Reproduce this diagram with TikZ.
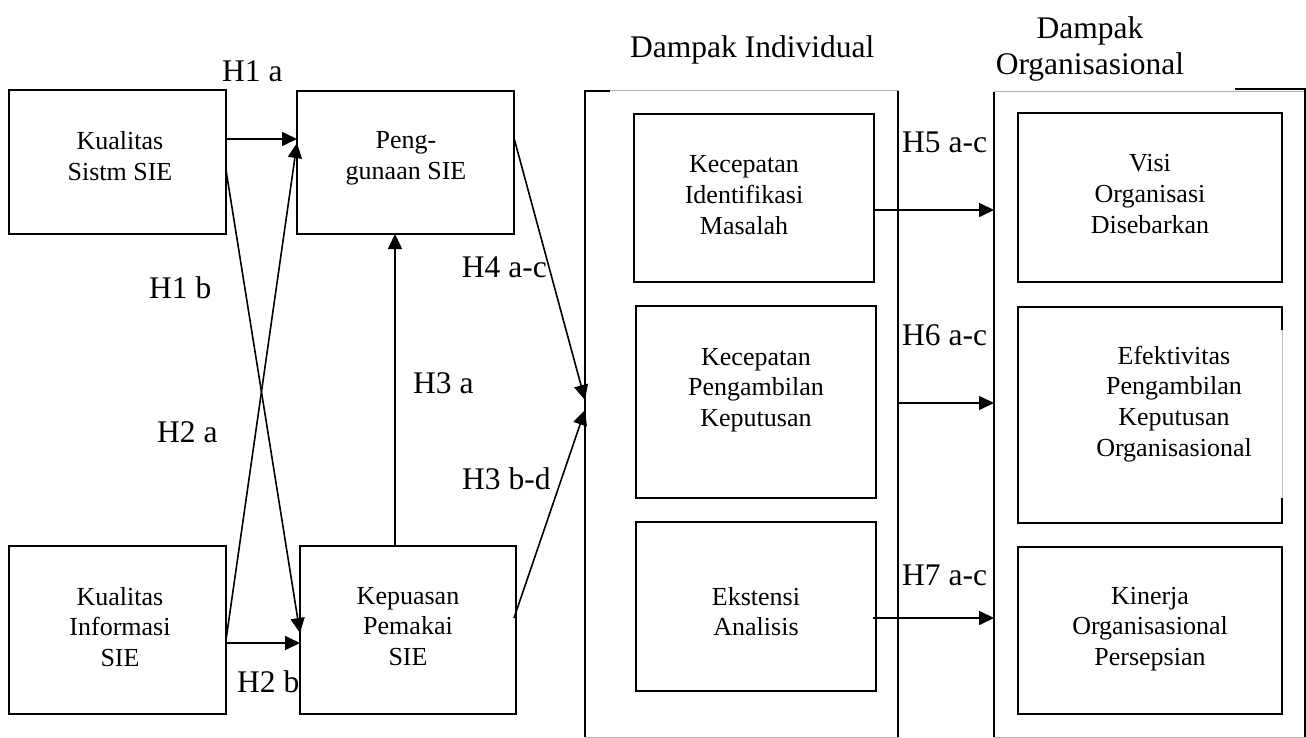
\documentclass[tikz,border=0pt]{standalone}
\usepackage{fontspec}
\setmainfont{Liberation Serif}
\usetikzlibrary{arrows.meta}
\begin{document}
\begin{tikzpicture}[x=1pt,y=-1pt,
  box/.style={draw, line width=1.8pt, rectangle, inner sep=0pt, outer sep=0pt},
  outerbox/.style={draw=gray!60, line width=1pt, rectangle, inner sep=0pt, outer sep=0pt},
  edge/.style={line width=2pt},
  txt/.style={anchor=base, inner sep=0pt, font=\fontsize{26}{30.8}\selectfont},
  lbl/.style={anchor=base west, inner sep=0pt, font=\fontsize{31.5}{36}\selectfont},
  conn/.style={line width=1.6pt, -{Triangle[length=15pt,width=14pt]}}
]
\useasboundingbox (0,0) rectangle (1306,738);

% left boxes
\node[box, minimum width=217pt, minimum height=144pt] (ks) at (117.5,162) {};
\node[box, minimum width=217pt, minimum height=143pt] (pg) at (405.5,162.5) {};
\node[box, minimum width=217pt, minimum height=168pt] (ki) at (117.5,630) {};
\node[box, minimum width=216pt, minimum height=168pt] (kp) at (408,630) {};

% outer group boxes
\node[outerbox, minimum width=313pt, minimum height=646pt] (di) at (741.5,414) {};
\draw[edge] (di.south west) -- (di.north west) -- ([xshift=25pt]di.north west);
\draw[edge] (di.north east) -- (di.south east);
\node[outerbox, minimum width=311pt, minimum height=645pt] (do) at (1149.5,414.5) {};
\draw[edge] (do.south west) -- (do.north west);
\draw[edge] (do.south east) -- ([yshift=3pt]do.north east) -- ([xshift=-70pt,yshift=3pt]do.north east);

% inner boxes
\node[box, minimum width=240pt, minimum height=168pt] (kim) at (754,198) {};
\node[box, minimum width=240pt, minimum height=192pt] (kpk) at (756,402) {};
\node[box, minimum width=240pt, minimum height=169pt] (ea) at (756,606.5) {};
\node[box, minimum width=264pt, minimum height=169pt] (vo) at (1150,197.5) {};
\node[box, draw=none, minimum width=264pt, minimum height=216pt] (ep) at (1150,415) {};
\draw[line width=1.8pt] ([yshift=-23pt]ep.north east) -- (ep.north east) -- (ep.north west)
  -- (ep.south west) -- (ep.south east) -- ([yshift=25pt]ep.south east);
\draw[gray!50, line width=0.8pt] ([yshift=-23pt]ep.north east) -- ([yshift=25pt]ep.south east);
\node[box, minimum width=264pt, minimum height=167pt] (kop) at (1150,630.5) {};

% box texts
\node[txt] (tks) at (120,150) {\begin{tabular}[t]{@{}c@{}}Kualitas\\Sistm SIE\end{tabular}};
\node[txt] (tpg) at (406,149) {\begin{tabular}[t]{@{}c@{}}Peng-\\gunaan SIE\end{tabular}};
\node[txt] (tki) at (120,605) {\begin{tabular}[t]{@{}c@{}}Kualitas\\Informasi\\SIE\end{tabular}};
\node[txt] (tkp) at (408,604) {\begin{tabular}[t]{@{}c@{}}Kepuasan\\Pemakai\\SIE\end{tabular}};
\node[txt] (tkim) at (744,173) {\begin{tabular}[t]{@{}c@{}}Kecepatan\\Identifikasi\\Masalah\end{tabular}};
\node[txt] (tkpk) at (756,365) {\begin{tabular}[t]{@{}c@{}}Kecepatan\\Pengambilan\\Keputusan\end{tabular}};
\node[txt] (tea) at (756,605) {\begin{tabular}[t]{@{}c@{}}Ekstensi\\Analisis\end{tabular}};
\node[txt] (tvo) at (1150,172) {\begin{tabular}[t]{@{}c@{}}Visi\\Organisasi\\Disebarkan\end{tabular}};
\node[txt] (tep) at (1174,364) {\begin{tabular}[t]{@{}c@{}}Efektivitas\\Pengambilan\\Keputusan\\Organisasional\end{tabular}};
\node[txt] (tkop) at (1150,604) {\begin{tabular}[t]{@{}c@{}}Kinerja\\Organisasional\\Persepsian\end{tabular}};

% titles
\node[lbl] (tdi) at (630,58) {Dampak Individual};
\node[lbl, anchor=base] (tdo1) at (1090,39) {Dampak};
\node[lbl, anchor=base] (tdo2) at (1090,75) {Organisasional};

% connectors
\draw[conn] ([yshift=23pt]ks.east) -- ([yshift=23.5pt]pg.west);
\draw[conn] ([yshift=-8pt]ks.east) -- ([yshift=-3pt]kp.west);
\draw[conn] ([yshift=-10pt]ki.east) -- ([yshift=19.5pt]pg.west);
\draw[conn] ([yshift=-13pt]ki.east) -- ([yshift=-13pt]kp.west);
\draw[conn] ([xshift=-13pt]kp.north) -- ([xshift=-10.5pt]pg.south);
\draw[conn] ([yshift=24.5pt]pg.east) -- ([yshift=14pt]di.west);
\draw[conn] ([xshift=-2pt,yshift=12pt]kp.east) -- ([yshift=4pt]di.west);
\draw[conn] ([yshift=-12pt]kim.east) -- ([yshift=204.5pt]do.west);
\draw[conn] ([yshift=11pt]di.east) -- ([yshift=11.5pt]do.west);
\draw[conn] ([xshift=-3pt,yshift=-11.5pt]ea.east) -- ([yshift=-203.5pt]do.west);

% connector labels
\node[lbl] (l1a) at (222,82) {H1 a};
\node[lbl] (l1b) at (149,298) {H1 b};
\node[lbl] (l2a) at (157,442) {H2 a};
\node[lbl] (l2b) at (237,692) {H2 b};
\node[lbl] (l3a) at (413,393) {H3 a};
\node[lbl, anchor=base east] (l4) at (547,277) {H4 a-c};
\node[lbl] (l3bd) at (462,489) {H3 b-d};
\node[lbl] (l5) at (902,153) {H5 a-c};
\node[lbl] (l6) at (902,345) {H6 a-c};
\node[lbl] (l7) at (902,585) {H7 a-c};
\end{tikzpicture}
\end{document}
